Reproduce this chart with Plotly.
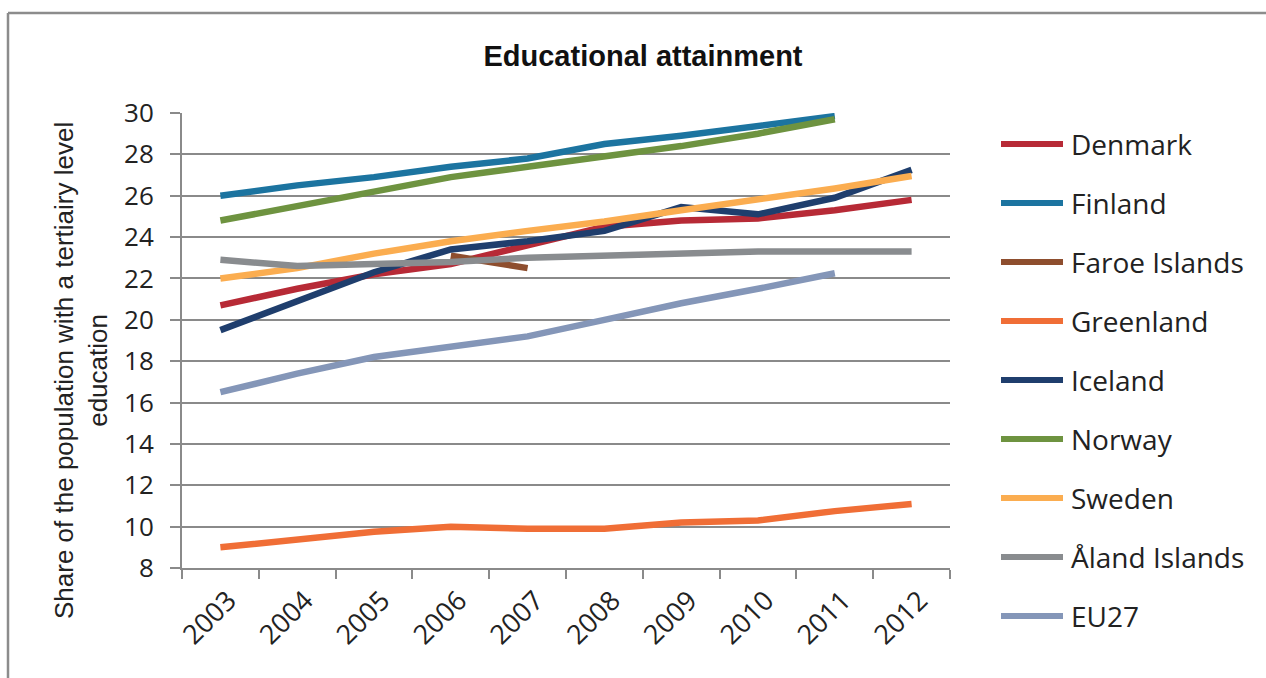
import plotly.graph_objects as go

years = ["2003", "2004", "2005", "2006", "2007", "2008", "2009", "2010", "2011", "2012"]

denmark = [20.7, 21.5, 22.2, 22.7, 23.6, 24.5, 24.8, 24.9, 25.3, 25.8]
finland = [26.0, 26.5, 26.9, 27.4, 27.8, 28.5, 28.9, 29.4, 29.85, None]
faroe = [None, None, None, 23.1, 22.5, None, None, None, None, None]
greenland = [9.0, 9.35, 9.75, 10.0, 9.9, 9.9, 10.2, 10.3, 10.75, 11.1]
iceland = [19.5, 20.9, 22.3, 23.4, 23.8, 24.3, 25.45, 25.1, 25.9, 27.25]
norway = [24.8, 25.5, 26.2, 26.9, 27.4, 27.9, 28.4, 29.0, 29.7, None]
sweden = [22.0, 22.5, 23.2, 23.8, 24.3, 24.75, 25.3, 25.8, 26.35, 26.95]
aland = [22.9, 22.6, 22.7, 22.8, 23.0, 23.1, 23.2, 23.3, 23.3, 23.3]
eu27 = [16.5, 17.4, 18.2, 18.7, 19.2, 20.0, 20.8, 21.5, 22.25, None]

series = [
    ("Denmark", denmark, "#B72A36"),
    ("Finland", finland, "#1C74A0"),
    ("Faroe Islands", faroe, "#8E4E2E"),
    ("Greenland", greenland, "#F06E36"),
    ("Iceland", iceland, "#1F3E6D"),
    ("Norway", norway, "#6E9340"),
    ("Sweden", sweden, "#FBAD50"),
    ("Åland Islands", aland, "#898C8F"),
    ("EU27", eu27, "#8496B8"),
]

# plot area in pixels (for converting layout positions to paper coords)
PL, PR, PT, PB = 182, 950, 113, 568
PW, PH = PR - PL, PB - PT


def px(x):
    return (x - PL) / PW


def py(y):
    return (PB - y) / PH


fig = go.Figure()
for name, vals, color in series:
    fig.add_trace(go.Scatter(
        x=years, y=vals, name=name, mode="lines",
        line=dict(color=color, width=6.5),
        connectgaps=False, showlegend=False,
    ))

frame = "#8C8C8C"
shapes = [
    dict(type="line", xref="paper", yref="paper", x0=px(8), x1=px(1266), y0=py(13), y1=py(13),
         line=dict(color=frame, width=2.5)),
    dict(type="line", xref="paper", yref="paper", x0=px(8), x1=px(8), y0=py(13), y1=py(678),
         line=dict(color=frame, width=2.5)),
]
annotations = [dict(text="Share of the population with a tertiairy level<br>education",
                    xref="paper", yref="paper", x=px(81), y=py(371),
                    xanchor="center", yanchor="middle", textangle=-90, showarrow=False,
                    font=dict(family="Liberation Sans, Arial", size=26, color="#222222"))]

# legend (key lines + labels)
for i, (name, vals, color) in enumerate(series):
    yc = 144 + 59 * i
    shapes.append(dict(type="line", xref="paper", yref="paper",
                       x0=px(1001), x1=px(1063), y0=py(yc), y1=py(yc),
                       line=dict(color=color, width=6)))
    annotations.append(dict(text=name, xref="paper", yref="paper", x=px(1069), y=py(yc),
                            xanchor="left", yanchor="middle", showarrow=False,
                            font=dict(family="Open Sans", size=28, color="#222222")))

grid = "#8A8A8A"
fig.update_layout(
    width=1266, height=678,
    margin=dict(l=PL, r=1266 - PR, t=PT, b=678 - PB),
    paper_bgcolor="white", plot_bgcolor="white",
    title=dict(text="<b>Educational attainment</b>", x=643 / 1266, xref="container",
               xanchor="center", y=1 - 56 / 678, yref="container", yanchor="middle",
               font=dict(family="Liberation Sans, Arial", size=29, color="#111111")),
    showlegend=False,
    xaxis=dict(type="category", range=[-0.5, len(years) - 0.5], showgrid=False,
               showline=True, linecolor=grid, linewidth=2,
               ticks="outside", tickson="boundaries", ticklen=9, tickcolor=grid, tickwidth=2,
               tickangle=-45, tickfont=dict(family="Open Sans", size=27, color="#222222"),
               ticklabelstandoff=4, ticklabelshift=8, fixedrange=True),
    yaxis=dict(range=[8, 30], dtick=2, showgrid=True, gridcolor=grid, gridwidth=1.5,
               showline=True, linecolor=grid, linewidth=2, zeroline=False,
               ticks="outside", ticklen=10, tickcolor=grid, tickwidth=1.5,
               tickfont=dict(family="Open Sans", size=26, color="#222222"),
               ticklabelstandoff=11, fixedrange=True),
    shapes=shapes,
    annotations=annotations,
)

fig.write_html("out.html")
